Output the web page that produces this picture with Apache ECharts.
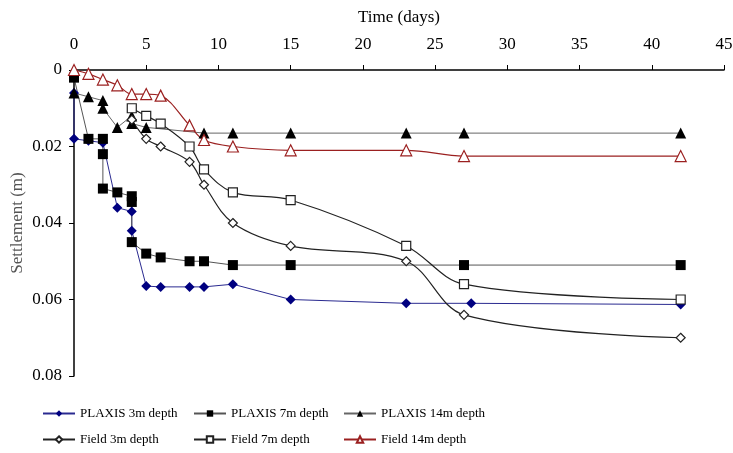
<!DOCTYPE html>
<html>
<head>
<meta charset="utf-8">
<script src="https://cdn.jsdelivr.net/npm/echarts@6/dist/echarts.min.js"></script>
<style>
  html, body { margin: 0; padding: 0; background: #fff; }
  #chart { width: 733px; height: 453px; }
</style>
</head>
<body>
<div id="chart"></div>
<script>
// [day, settlement (m)]
const plaxis3m = [[0,0.006],[0,0.018],[1,0.0185],[2,0.019],[3,0.036],[4,0.037],[4,0.042],[5,0.0565],[6,0.0567],[8,0.0567],[9,0.0567],[11,0.056],[15,0.060],[23,0.061],[27.5,0.061],[42,0.0613]];
const plaxis7m = [[0,0.002],[1,0.018],[2,0.018],[2,0.022],[2,0.031],[3,0.032],[4,0.033],[4,0.0345],[4,0.045],[5,0.048],[6,0.049],[8,0.050],[9,0.050],[11,0.051],[15,0.051],[27,0.051],[42,0.051]];
const plaxis14m = [[0,0.006],[1,0.007],[2,0.008],[2,0.010],[3,0.015],[4,0.012],[4,0.014],[5,0.015],[9,0.0165],[11,0.0165],[15,0.0165],[23,0.0165],[27,0.0165],[42,0.0165]];
const field3m = [[4,0.013],[5,0.018],[6,0.020],[8,0.024],[9,0.030],[11,0.040],[15,0.046],[23,0.050],[27,0.064],[42,0.070]];
const field7m = [[4,0.010],[5,0.012],[6,0.014],[8,0.020],[9,0.026],[11,0.032],[15,0.034],[23,0.046],[27,0.056],[42,0.060]];
const field14m = [[0,0],[1,0.001],[2,0.0025],[3,0.004],[4,0.0063],[5,0.0063],[6,0.0067],[8,0.0145],[9,0.0183],[11,0.020],[15,0.021],[23,0.021],[27,0.0225],[42,0.0225]];

const seriesNames = ['PLAXIS 3m depth', 'PLAXIS 7m depth', 'PLAXIS 14m depth',
                     'Field 3m depth', 'Field 7m depth', 'Field 14m depth'];

const font = 'Liberation Serif';

function plaxis(name, data, symbol, color, lineColor, size) {
    return {
        name: name, type: 'line', data: data,
        symbol: symbol, symbolSize: size,
        itemStyle: { color: color },
        lineStyle: { color: lineColor, width: 1 },
        emphasis: { disabled: true },
        animation: false
    };
}
function field(name, data, symbol, color, size) {
    return {
        name: name, type: 'line', data: data, smooth: 0.35,
        symbol: symbol, symbolSize: size,
        itemStyle: { color: '#fff', borderColor: color, borderWidth: 1.2 },
        lineStyle: { color: color, width: 1.2 },
        emphasis: { disabled: true },
        animation: false
    };
}

// one legend per item so the columns line up like the original
const legendLeft = [37, 188, 338];
const legendTop = [402, 428];
const legends = seriesNames.map(function (n, i) {
    return {
        left: legendLeft[i % 3], top: legendTop[Math.floor(i / 3)],
        itemWidth: 32, itemHeight: 8, itemGap: 0,
        textStyle: { fontFamily: font, fontSize: 13, color: '#000' },
        data: [n]
    };
});

let myChart = echarts.init(document.getElementById('chart'));
const option = {
    backgroundColor: '#fff',
    grid: { left: 74, right: 9, top: 70, bottom: 77, outerBoundsMode: 'none' },
    xAxis: {
        type: 'value', position: 'top',
        min: 0, max: 45, interval: 5,
        name: 'Time (days)', nameLocation: 'middle', nameGap: 44,
        nameMoveOverlap: false,
        nameTextStyle: { fontFamily: font, fontSize: 17, color: '#000' },
        axisLine: { lineStyle: { color: '#000', width: 1.5 } },
        axisTick: { length: 5, lineStyle: { color: '#000' } },
        axisLabel: { fontFamily: font, fontSize: 17, color: '#000', margin: 17 },
        splitLine: { show: false }
    },
    yAxis: {
        type: 'value', inverse: true,
        min: 0, max: 0.08, interval: 0.02,
        name: 'Settlement (m)', nameLocation: 'middle', nameGap: 48,
        nameMoveOverlap: false,
        nameTextStyle: { fontFamily: font, fontSize: 17, color: '#555' },
        axisLine: { show: true, lineStyle: { color: '#000', width: 1.5 } },
        axisTick: { show: true, length: 5, lineStyle: { color: '#000' } },
        axisLabel: {
            fontFamily: font, fontSize: 17, color: '#000', margin: 12,
            formatter: function (v) { return v === 0 ? '0' : v.toFixed(2); }
        },
        splitLine: { show: false }
    },
    legend: legends,
    series: [
        plaxis(seriesNames[0], plaxis3m, 'diamond', '#000080', '#2a2a90', 10),
        plaxis(seriesNames[1], plaxis7m, 'rect', '#000', '#555', 10),
        plaxis(seriesNames[2], plaxis14m, 'triangle', '#000', '#666', 11),
        field(seriesNames[3], field3m, 'diamond', '#222', 9),
        field(seriesNames[4], field7m, 'rect', '#222', 9),
        field(seriesNames[5], field14m, 'triangle', '#9b2020', 11)
    ]
};
myChart.setOption(option);
</script>
</body>
</html>
